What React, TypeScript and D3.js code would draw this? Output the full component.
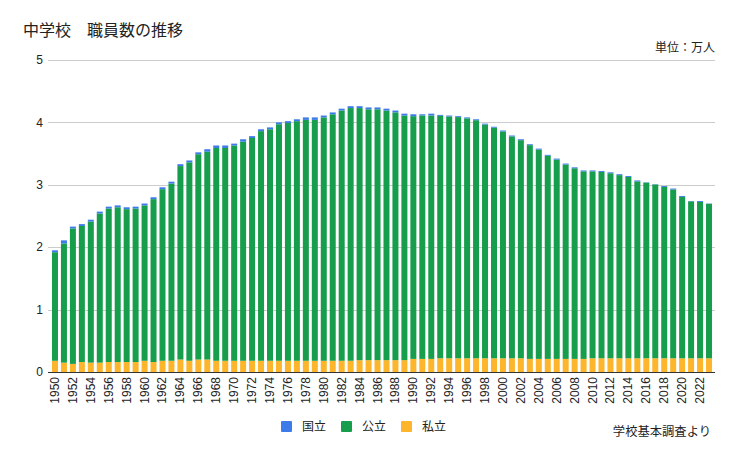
import React from "react";
import * as d3 from "d3";

const years: number[] = d3.range(1950, 2024);

const nationalValues: number[] = [
  0.03, 0.05, 0.03, 0.03, 0.03, 0.03, 0.03, 0.03, 0.03, 0.03,
  0.03, 0.03, 0.03, 0.03, 0.03, 0.03, 0.03, 0.04, 0.04, 0.04,
  0.03, 0.04, 0.03, 0.03, 0.03, 0.03, 0.03, 0.03, 0.04, 0.04,
  0.03, 0.03, 0.03, 0.03, 0.03, 0.03, 0.03, 0.03, 0.03, 0.03,
  0.03, 0.02, 0.03, 0.015, 0.015, 0.015, 0.015, 0.015, 0.015, 0.015,
  0.015, 0.015, 0.015, 0.015, 0.015, 0.015, 0.015, 0.015, 0.015, 0.015,
  0.015, 0.015, 0.015, 0.015, 0.015, 0.015, 0.005, 0.005, 0.015, 0.015,
  0.015, 0.005, 0.015, 0.005,
];

const publicValues: number[] = [
  1.74, 1.91, 2.17, 2.18, 2.26, 2.39, 2.46, 2.48, 2.45, 2.46,
  2.49, 2.61, 2.75, 2.84, 3.10, 3.18, 3.29, 3.33, 3.41, 3.41,
  3.45, 3.51, 3.57, 3.68, 3.71, 3.79, 3.81, 3.84, 3.86, 3.86,
  3.90, 3.95, 4.01, 4.05, 4.04, 4.02, 4.02, 4.00, 3.97, 3.92,
  3.89, 3.90, 3.90, 3.885, 3.875, 3.865, 3.845, 3.815, 3.745, 3.695,
  3.635, 3.555, 3.495, 3.425, 3.355, 3.255, 3.195, 3.115, 3.055, 3.005,
  2.995, 2.985, 2.965, 2.935, 2.905, 2.835, 2.815, 2.785, 2.745, 2.705,
  2.585, 2.515, 2.505, 2.475,
];

const privateValues: number[] = [
  0.18, 0.15, 0.13, 0.16, 0.15, 0.15, 0.16, 0.16, 0.16, 0.16,
  0.18, 0.16, 0.18, 0.18, 0.20, 0.18, 0.20, 0.20, 0.18, 0.18,
  0.18, 0.18, 0.18, 0.18, 0.18, 0.18, 0.18, 0.18, 0.18, 0.18,
  0.18, 0.18, 0.18, 0.18, 0.19, 0.19, 0.19, 0.19, 0.19, 0.19,
  0.21, 0.21, 0.21, 0.22, 0.22, 0.22, 0.22, 0.22, 0.22, 0.22,
  0.22, 0.22, 0.22, 0.21, 0.21, 0.21, 0.21, 0.21, 0.21, 0.21,
  0.22, 0.22, 0.22, 0.22, 0.22, 0.22, 0.22, 0.22, 0.22, 0.22,
  0.22, 0.22, 0.22, 0.22,
];

const yTicks: number[] = [0, 1, 2, 3, 4, 5];

const seriesKeys = ["private", "public", "national"] as const;
const seriesLabels: Record<string, string> = {
  national: "国立",
  public: "公立",
  private: "私立",
};
const legendOrder = ["national", "public", "private"];

const colors: Record<string, string> = {
  national: "#3d7ce8",
  public: "#169e4c",
  private: "#fdb52c",
};

const FONT = "Arial, 'Liberation Sans', 'Noto Sans CJK JP', sans-serif";

export default function App() {
  const width = 738;
  const height = 456;
  const plotLeft = 48;
  const plotRight = 715;

  const rows = years.map((y, i) => ({
    year: y,
    national: nationalValues[i],
    public: publicValues[i],
    private: privateValues[i],
  }));

  const x = d3
    .scaleBand<number>()
    .domain(years)
    .range([50.5, 713.5])
    .paddingInner(0.33)
    .paddingOuter(0.165);

  const yScale = d3.scaleLinear().domain([0, 5]).range([372, 60]);

  const stacked = d3.stack<any>().keys(seriesKeys as unknown as string[])(rows);

  return (
    <div style={{ position: "fixed", left: 0, top: 0 }}>
      <svg width={width} height={height} style={{ display: "block", background: "#fff" }} fontFamily={FONT}>
        <text x={23} y={36} fontSize={16} fill="#222">
          中学校　職員数の推移
        </text>
        <text x={715} y={52} fontSize={12} fill="#222" textAnchor="end">
          単位：万人
        </text>

        {yTicks.map((t) => (
          <g key={t}>
            {t > 0 && (
              <line
                x1={plotLeft}
                x2={plotRight}
                y1={Math.round(yScale(t)) + 0.5}
                y2={Math.round(yScale(t)) + 0.5}
                stroke="#cccccc"
                strokeWidth={1}
              />
            )}
            <text
              x={43}
              y={yScale(t)}
              dy="0.35em"
              fontSize={12}
              fill="#222"
              textAnchor="end"
            >
              {t}
            </text>
          </g>
        ))}

        {stacked.map((s) => (
          <g key={s.key} fill={colors[s.key]}>
            {s.map((d, i) => (
              <rect
                key={i}
                x={x(years[i])}
                width={x.bandwidth()}
                y={yScale(d[1])}
                height={Math.max(0, yScale(d[0]) - yScale(d[1]))}
              />
            ))}
          </g>
        ))}

        <line x1={plotLeft} x2={plotRight} y1={372.5} y2={372.5} stroke="#333" strokeWidth={1} />

        {years
          .filter((y) => y % 2 === 0)
          .map((y) => {
            const cx = (x(y) as number) + x.bandwidth() / 2;
            return (
              <text
                key={y}
                transform={`translate(${cx + 4},377) rotate(-90)`}
                fontSize={12}
                fill="#222"
                textAnchor="end"
              >
                {y}
              </text>
            );
          })}

        {legendOrder.map((k, i) => {
          const lx = 281 + i * 60;
          return (
            <g key={k}>
              <rect x={lx} y={421} width={11} height={11} rx={1} fill={colors[k]} />
              <text x={lx + 21} y={431} fontSize={12} fill="#222">
                {seriesLabels[k]}
              </text>
            </g>
          );
        })}

        <text x={711} y={436} fontSize={12.3} fill="#222" textAnchor="end">
          学校基本調査より
        </text>
      </svg>
    </div>
  );
}
